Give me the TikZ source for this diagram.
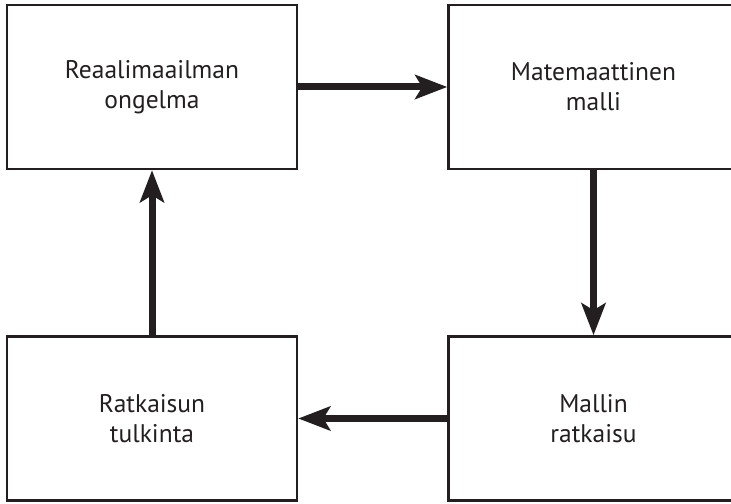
\documentclass[tikz,border=0pt]{standalone}
\usepackage{fontspec}
\setmainfont{PT Sans}
\usetikzlibrary{arrows.meta, positioning}
\definecolor{cInk}{RGB}{35,31,32}
\tikzset{
	stagebox/.style={rectangle, draw=cInk, line width=2.5bp, minimum width=290bp, minimum height=164bp, align=center, text=cInk, font=\fontsize{25.5bp}{30bp}\selectfont},
	flowarrow/.style={-{Stealth[length=32bp, width=24bp, inset=7bp]}, line width=7bp, cInk},
}
\begin{document}
\begin{tikzpicture}[x=1bp, y=1bp]
	\useasboundingbox (0,0) rectangle (731,504);
	\clip (0,0) rectangle (731,504);
	% the four stages of modelling
	\node[stagebox] (ongelma) at (152,417) {Reaalimaailman\\ongelma};
	\node[stagebox, right=149bp of ongelma] (malli) {Matemaattinen\\malli};
	\node[stagebox, below=165bp of malli] (ratkaisu) {Mallin\\ratkaisu};
	\node[stagebox, below=165bp of ongelma] (tulkinta) {Ratkaisun\\tulkinta};
	% cycle
	\draw[flowarrow] (ongelma) -- (malli);
	\draw[flowarrow] (malli) -- (ratkaisu);
	\draw[flowarrow] (ratkaisu) -- (tulkinta);
	\draw[flowarrow] (tulkinta) -- (ongelma);
\end{tikzpicture}
\end{document}
